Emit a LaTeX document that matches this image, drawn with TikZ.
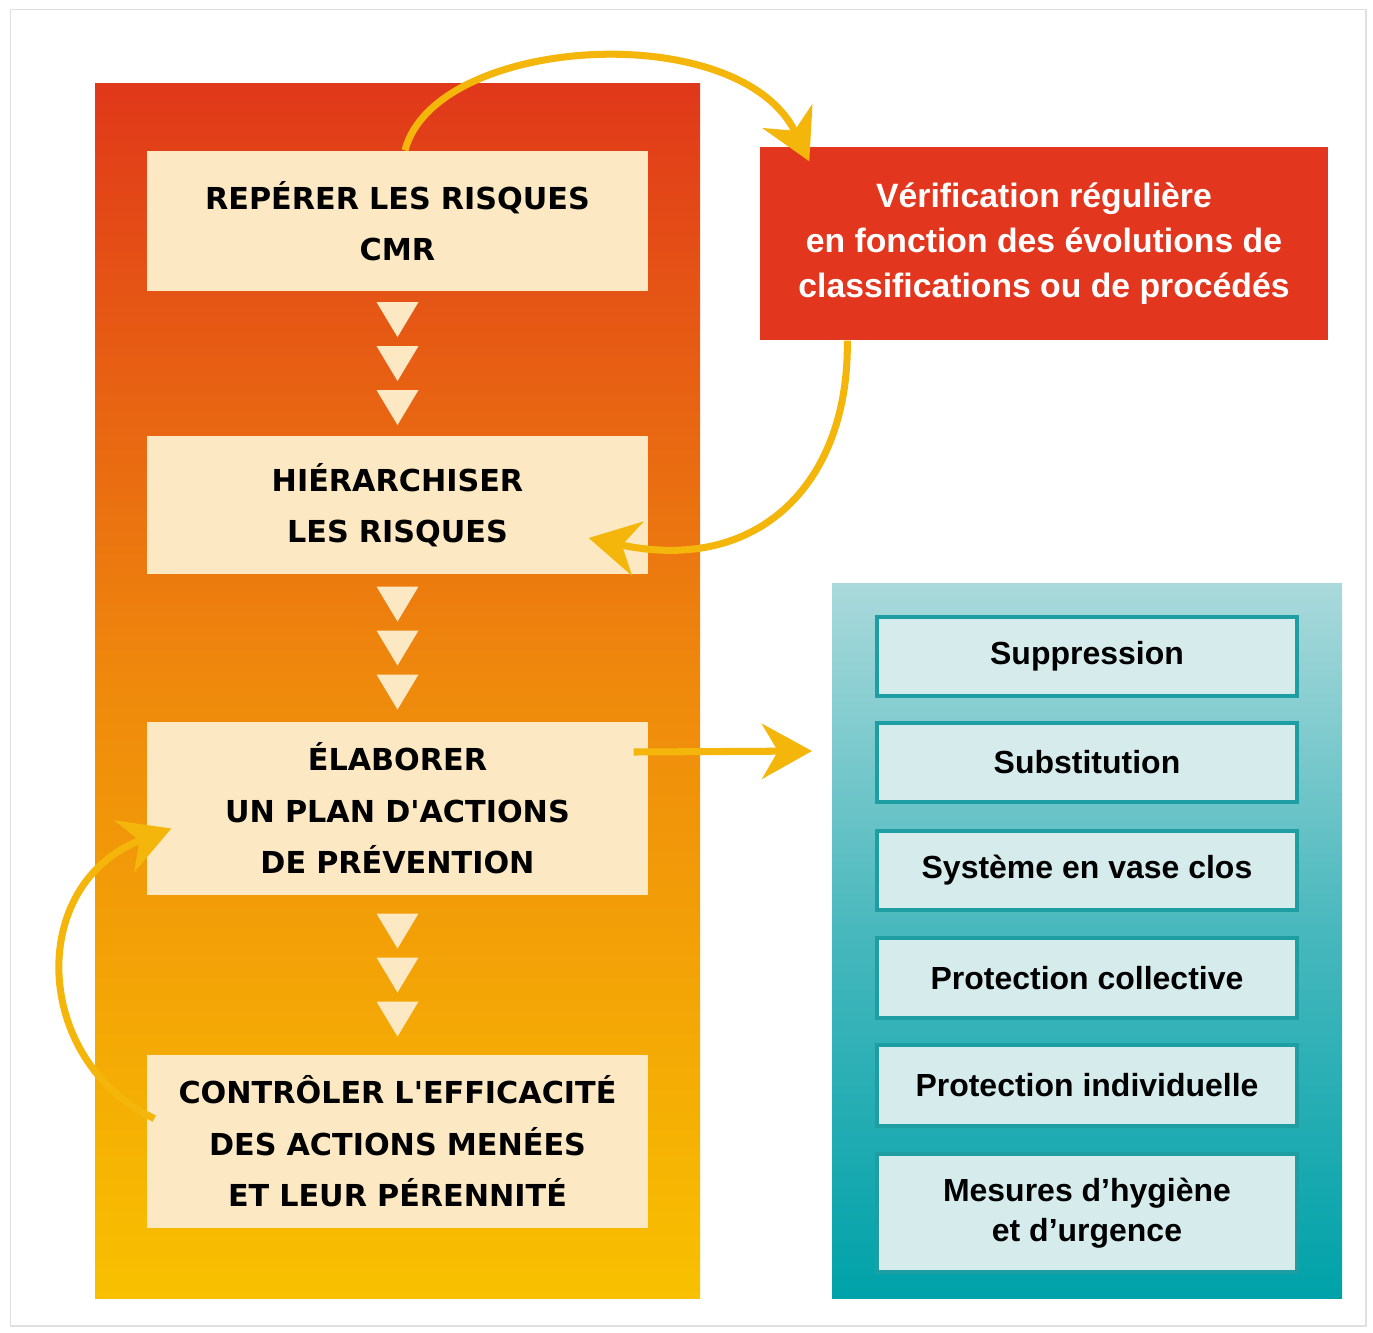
\documentclass[tikz,border=0pt]{standalone}
\usepackage{fontspec}
\newfontfamily\etapefont{DejaVu Sans}[Ligatures=TeXOff]
\newfontfamily\notefont{Liberation Sans}
\usetikzlibrary{arrows.meta,positioning,calc}
\definecolor{InrsRed}{HTML}{E3361F}
\definecolor{InrsTop}{HTML}{E0381A}
\definecolor{InrsOrange}{HTML}{EF8A0C}
\definecolor{InrsGold}{HTML}{F8C000}
\definecolor{InrsCream}{HTML}{FCE9C4}
\definecolor{InrsYellow}{HTML}{F4B60A}
\definecolor{InrsTealLight}{HTML}{AAD9DB}
\definecolor{InrsTealMid}{HTML}{45B7BC}
\definecolor{InrsTeal}{HTML}{00A2A9}
\definecolor{InrsTealDark}{HTML}{1E9EA2}
\definecolor{InrsTealPale}{HTML}{D6EBEC}

\begin{document}
\begin{tikzpicture}[
      etape/.style={fill=InrsCream,minimum width=5.01cm,text width=4.8cm,
                    align=center,inner sep=0pt,
                    font=\etapefont\bfseries\fontsize{8.6}{14.6}\selectfont},
      mesure/.style={draw=InrsTealDark,line width=0.9pt,fill=InrsTealPale,
                     minimum width=4.2cm,minimum height=0.79cm,align=center,
                     inner sep=0pt,font=\notefont\bfseries\fontsize{9.1}{11.4}\selectfont},
      fleche/.style={-{Stealth[length=5mm,width=5.5mm,inset=1.6mm]},
                     line width=2pt,draw=InrsYellow}]
    \useasboundingbox (0,0) rectangle (13.73,-13.33);
    \fill[white] (0,0) rectangle (13.73,-13.33);
    \draw[black!12,line width=0.4pt] (0.105,-0.093) rectangle (13.66,-13.26);
    % panneaux de fond
    \shade[top color=InrsTop,bottom color=InrsGold,middle color=InrsOrange]
      (0.95,-0.83) rectangle (7.00,-12.98);
    \shade[top color=InrsTealLight,bottom color=InrsTeal,middle color=InrsTealMid]
      (8.32,-5.83) rectangle (13.42,-12.98);
    % etapes
    \node[etape,minimum height=1.40cm] (repere) at (3.975,-2.21)
      {REPÉRER LES RISQUES\\CMR};
    \node[etape,minimum height=1.38cm] (hier) at (3.975,-5.05)
      {HIÉRARCHISER\\LES RISQUES};
    \node[etape,minimum height=1.73cm] (plan) at (3.975,-8.085)
      {ÉLABORER\\UN PLAN D'ACTIONS\\DE PRÉVENTION};
    \node[etape,minimum height=1.73cm] (ctrl) at (3.975,-11.415)
      {CONTRÔLER L'EFFICACITÉ\\DES ACTIONS MENÉES\\ET LEUR PÉRENNITÉ};
    \foreach \a/\b in {repere/hier,hier/plan,plan/ctrl}
      \foreach \k in {-0.44,0,0.44}
        \fill[InrsCream] ($(\a.south)!0.5!(\b.north)+(0,\k)$)
          ++(-0.21,0.175) -- ++(0.42,0) -- ++(-0.21,-0.35) -- cycle;
    % verification
    \node[fill=InrsRed,minimum width=5.68cm,minimum height=1.93cm,inner sep=0pt,
          text=white,align=center,font=\notefont\bfseries\fontsize{9.6}{12.8}\selectfont]
      (verif) at (10.44,-2.435) {Vérification régulière\\en fonction des évolutions de\\
      classifications ou de procédés};
    % mesures de prevention
    \node[mesure] (suppr) at (10.87,-6.565) {Suppression};
    \node[mesure] (subst) at (10.87,-7.625) {Substitution};
    \node[mesure] (clos) at (10.87,-8.705) {Système en vase clos};
    \node[mesure,minimum height=0.80cm] (coll) at (10.87,-9.78) {Protection collective};
    \node[mesure,minimum height=0.81cm] (indiv) at (10.87,-10.855) {Protection individuelle};
    \node[mesure,minimum height=1.18cm] (hyg) at (10.87,-12.13)
      {Mesures d’hygiène\\et d’urgence};
    \coordinate (versmesures) at (8.12,-7.51);
    % fleches
    \draw[fleche] ([xshift=0.75mm]repere.north) .. controls +(0.30,1.15) and +(-0.70,1.45)
      .. ([xshift=5mm,yshift=-1.5mm]verif.north west);
    \draw[fleche] ([xshift=8.8mm]verif.south west) .. controls +(0.02,-1.40) and +(1.72,-0.37)
      .. ([xshift=-6mm,yshift=-3.3mm]hier.east);
    \draw[fleche] ([xshift=-1.5mm,yshift=5.65mm]plan.east) -- (versmesures);
    \draw[fleche] ([xshift=0.8mm,yshift=2.3mm]ctrl.west) .. controls +(-1.22,0.58) and +(-1.45,-0.55)
      .. ([xshift=2.5mm,yshift=-2mm]plan.west);
  \end{tikzpicture}
\end{document}
